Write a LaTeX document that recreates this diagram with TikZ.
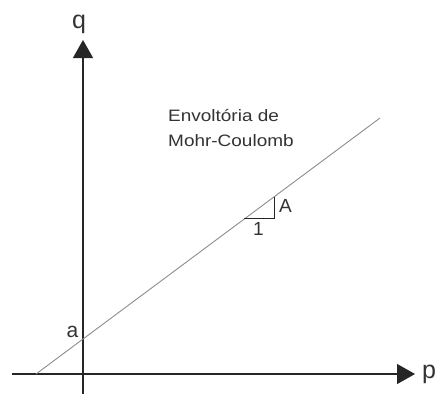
\documentclass[tikz,border=0pt]{standalone}
\usepackage{fontspec}
\setmainfont{Liberation Sans}
\usepackage{graphicx}
\usetikzlibrary{arrows.meta}
\begin{document}
\begin{tikzpicture}[x=1pt,y=-1pt,
  axis/.style={draw=black!85,line width=1.3pt,-{Triangle[length=18pt,width=20pt]}},
  env/.style={draw=black!45,line width=0.9pt},
  tri/.style={draw=black!85,line width=1pt},
  lbl/.style={inner sep=0pt,text=black!80}]
\useasboundingbox (0,0) rectangle (435,394);
% axis ends
\coordinate (ybot) at (83,394);
\coordinate (ytop) at (83,40);
\coordinate (xleft) at (12,374);
\coordinate (xright) at (415,374);
\draw[axis] (ybot) -- (ytop);
\draw[axis] (xleft) -- (xright);
% envelope
\coordinate (e0) at (36,374);
\coordinate (e1) at (380,118);
\draw[env] (e0) -- (e1);
% slope triangle
\coordinate (t1) at (244,218);
\coordinate (t2) at (274,218);
\coordinate (t3) at (274,197);
\draw[tri] (t1) -- (t2) -- (t3);
% labels
\node[lbl,anchor=base] (q) at (79,28) {\fontsize{25}{25}\selectfont q};
\node[lbl,anchor=base west] (p) at (422,378) {\fontsize{25}{25}\selectfont p};
\node[lbl,anchor=base west] (A) at (279,212) {\fontsize{19}{19}\selectfont A};
\node[lbl,anchor=base] (one) at (258.5,235) {\fontsize{19}{19}\selectfont 1};
\node[lbl,anchor=base] (a) at (72.5,337) {\fontsize{21}{21}\selectfont a};
\node[lbl,anchor=base west] (l1) at (168,121) {\fontsize{16.5}{16.5}\selectfont\scalebox{1.15}[1]{Envoltória de}};
\node[lbl,anchor=base west] (l2) at (168,146) {\fontsize{16.5}{16.5}\selectfont\scalebox{1.15}[1]{Mohr-Coulomb}};
\end{tikzpicture}
\end{document}
